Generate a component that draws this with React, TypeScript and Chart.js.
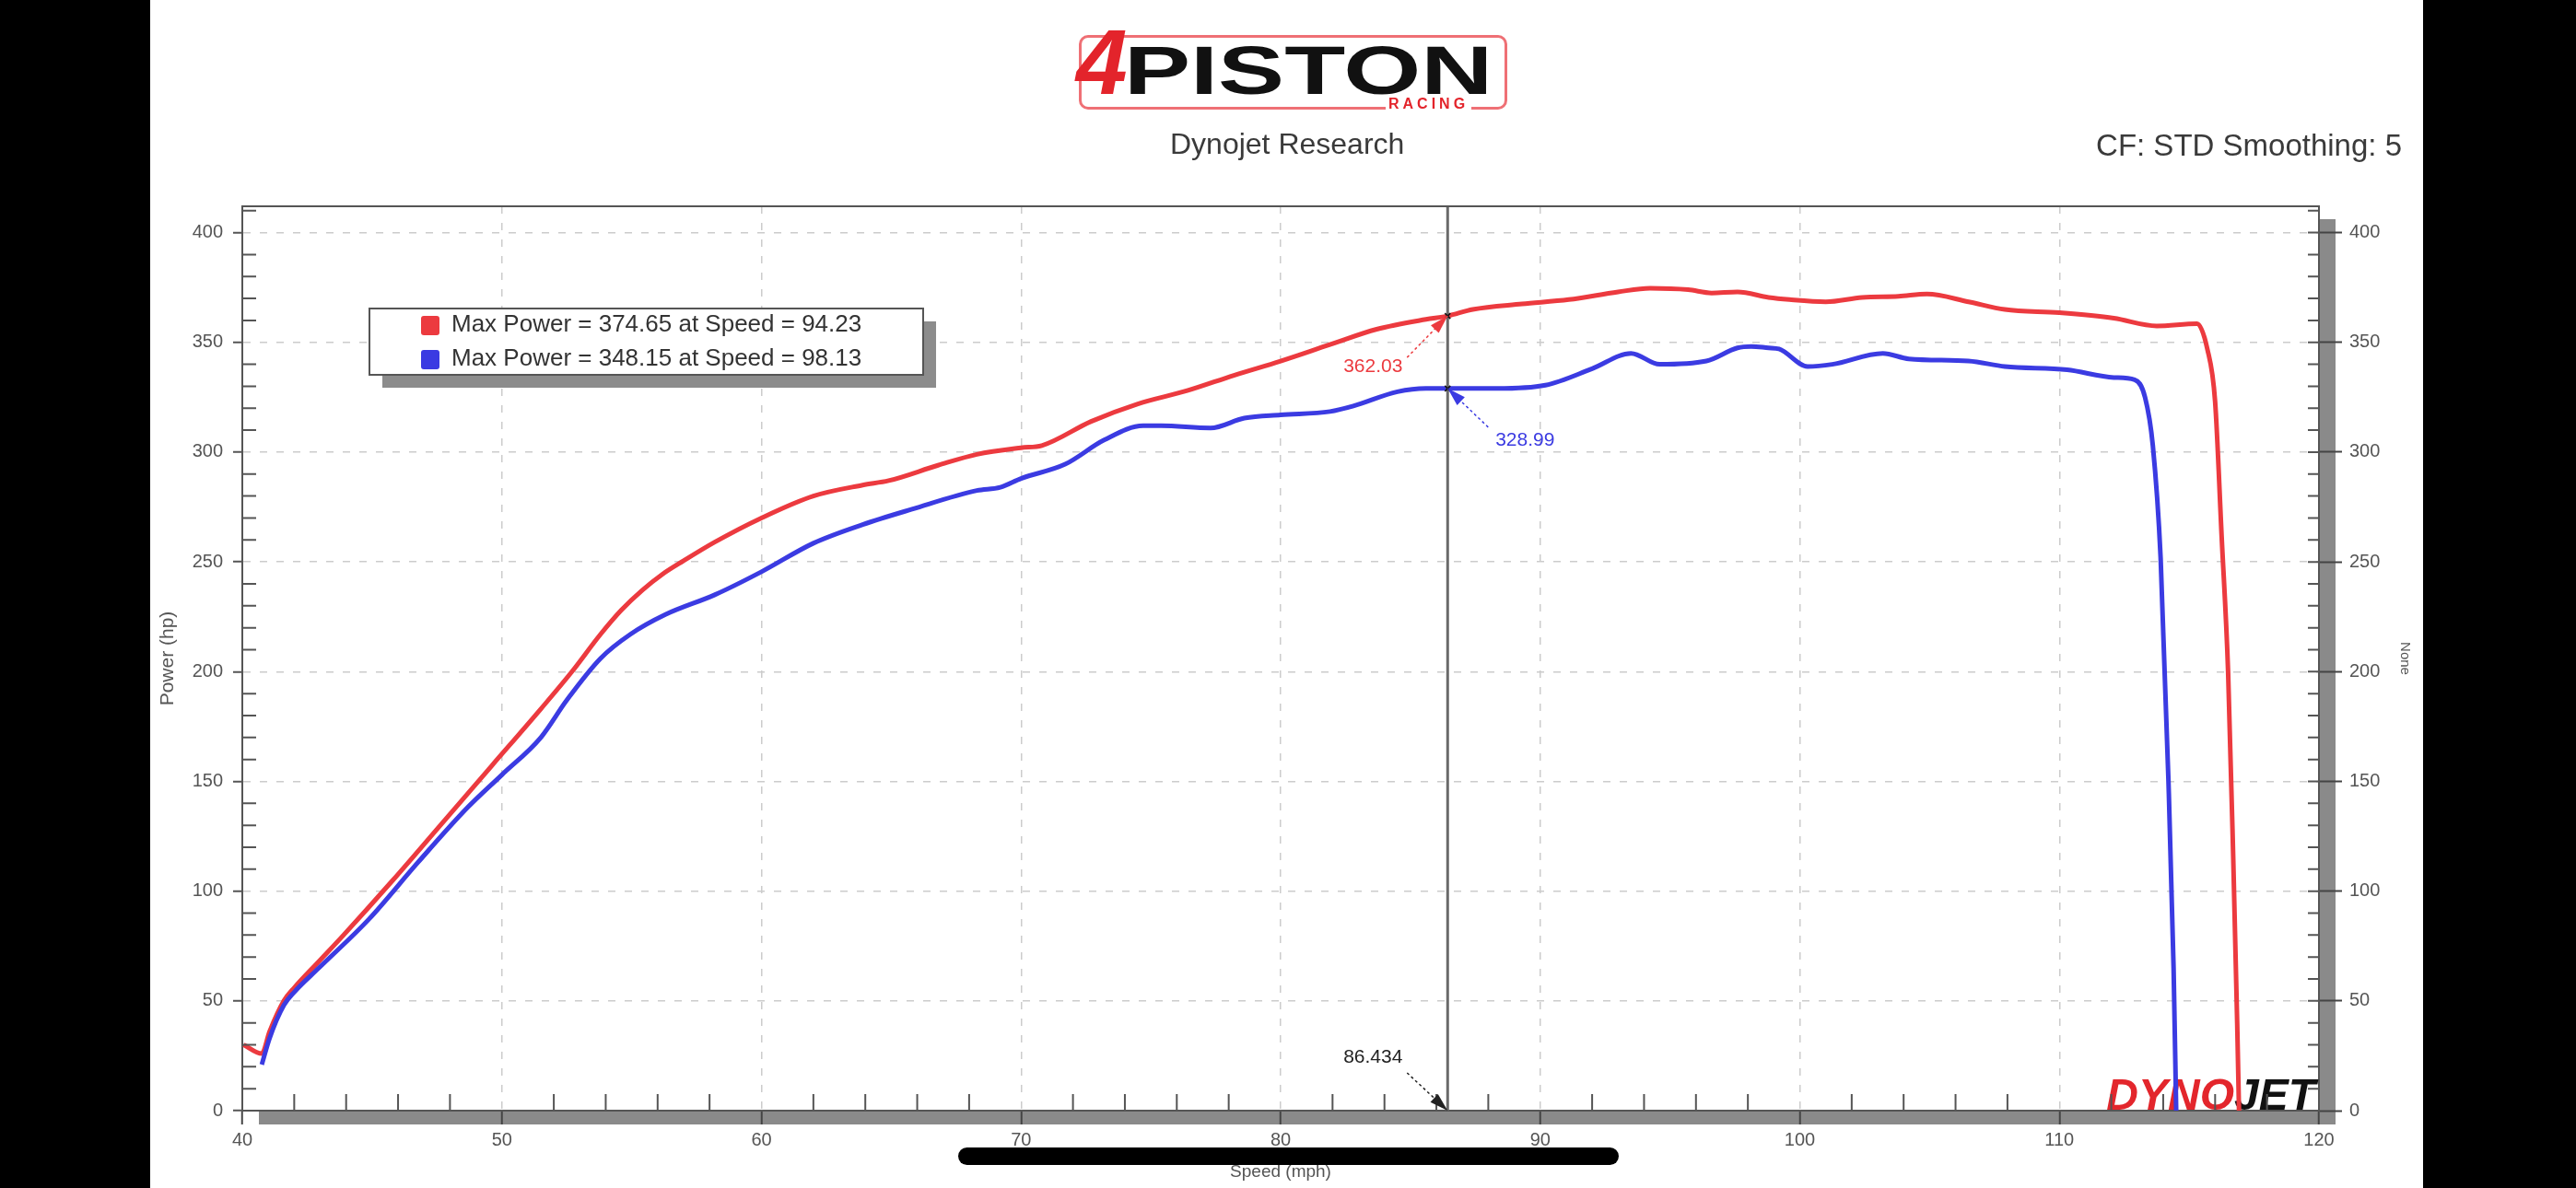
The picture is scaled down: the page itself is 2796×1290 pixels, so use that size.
import React, { useEffect, useRef } from 'react';
import { Chart, registerables } from 'chart.js';

Chart.register(...registerables);

// ---------- data ----------
const redSpeed = [40.05, 40.75, 41.05, 41.6, 42.0, 42.95, 43.9, 45.8, 47.7, 49.6, 51.5, 52.7, 53.8, 54.6, 55.4, 56.2, 57.0, 58.2, 60.0, 62.0, 63.9, 64.9, 66.8, 68.3, 70.0, 70.8, 72.7, 74.5, 76.4, 78.2, 80.0, 81.9, 83.7, 85.6, 86.434, 87.4, 89.3, 91.1, 93.0, 94.23, 95.7, 96.6, 97.6, 98.8, 99.6, 101.0, 102.4, 103.8, 104.9, 106.5, 107.9, 110.0, 112.1, 113.75, 115.3, 115.7, 116.0, 116.25, 116.5, 116.7, 116.85, 116.92];
const redPower = [30, 26, 36, 50, 56, 68, 80, 105, 131, 157, 183, 200, 217, 228, 237, 244.5, 250.5, 259, 270, 280, 285, 287, 294, 299, 302, 303, 314, 322, 328, 335, 341.5, 349, 356, 360.5, 362.03, 365, 367.5, 369.5, 373, 374.65, 374, 372.5, 373, 370.5, 369.5, 368.5, 370.5, 371, 372, 368.5, 365, 363.5, 361, 357.5, 358.5, 347, 323, 262, 200, 114, 40, 0];

const blueSpeed = [40.75, 41.05, 41.6, 42.0, 42.95, 44.86, 46.76, 48.67, 50.0, 51.5, 52.5, 53.8, 54.95, 56.3, 58.2, 60.0, 62.0, 63.9, 65.8, 68.3, 69.2, 70.0, 71.7, 73.2, 74.7, 75.4, 77.3, 78.6, 80.0, 81.9, 82.8, 84.5, 85.6, 86.434, 88.3, 90.2, 92.0, 93.5, 94.6, 96.4, 97.6, 98.13, 98.8, 99.2, 100.3, 101.25, 103.2, 104.2, 106.5, 107.9, 110.3, 112.1, 112.9, 113.3, 113.6, 113.9, 114.2, 114.4, 114.5];
const bluePower = [21, 33, 48, 54, 65, 87, 113, 138, 153, 170, 187, 206, 217, 226, 235, 245.5, 258.5, 267, 274, 282.5, 284, 288, 294.5, 305.5, 312, 312, 311, 315.5, 317, 318.5, 321, 327.5, 329, 328.99, 329, 330.5, 338, 345, 340, 341.5, 347.5, 348.15, 347.5, 347, 339, 340, 345, 342.5, 341.5, 339, 337.5, 334, 333, 325, 303, 252, 151, 65, 0];

const legendLabels = ['Max Power = 374.65 at Speed = 94.23', 'Max Power = 348.15 at Speed = 98.13'];
const cursorSpeed = 86.434;
const cursorValues = [362.03, 328.99];
const cursorSpeedLabel = '86.434';
const cursorValueLabels = ['362.03', '328.99'];

const RED = '#ec3a3f';
const BLUE = '#3b3be2';
const FONT = '"Liberation Sans", Arial, sans-serif';

function arrowLabel(
  ctx: CanvasRenderingContext2D,
  tx: number, ty: number, text: string, color: string,
  lx: number, ly: number, sx: number, sy: number
) {
  ctx.save();
  ctx.strokeStyle = color;
  ctx.fillStyle = color;
  ctx.lineWidth = 1.5;
  ctx.setLineDash([3, 3]);
  ctx.beginPath();
  ctx.moveTo(tx + sx, ty + sy);
  ctx.lineTo(tx, ty);
  ctx.stroke();
  ctx.setLineDash([]);
  const ang = Math.atan2(-sy, -sx);
  const L = 20, W = 6;
  const bx = tx - L * Math.cos(ang), by = ty - L * Math.sin(ang);
  ctx.beginPath();
  ctx.moveTo(tx, ty);
  ctx.lineTo(bx + W * Math.sin(ang), by - W * Math.cos(ang));
  ctx.lineTo(bx - W * Math.sin(ang), by + W * Math.cos(ang));
  ctx.closePath();
  ctx.fill();
  ctx.font = `21px ${FONT}`;
  ctx.textAlign = 'center';
  ctx.textBaseline = 'middle';
  ctx.fillText(text, tx + lx, ty + ly);
  ctx.restore();
}

const decor = {
  id: 'decor',
  beforeDraw(chart: any) {
    const { ctx, chartArea: a } = chart;
    ctx.save();
    ctx.fillStyle = '#8a8a8a';
    ctx.fillRect(a.left + 18, a.bottom, a.right - a.left, 15);
    ctx.fillRect(a.right, a.top + 14, 18, a.bottom - a.top + 1);
    ctx.restore();
  },
  beforeDatasetsDraw(chart: any) {
    const { ctx, chartArea: a } = chart;
    ctx.save();
    ctx.font = `italic bold 48px ${FONT}`;
    ctx.textBaseline = 'alphabetic';
    const w2 = ctx.measureText('JET').width;
    const w1 = ctx.measureText('DYNO').width;
    const x0 = a.right - w2 - w1 - 4;
    ctx.fillStyle = '#e3262c';
    ctx.fillText('DYNO', x0, a.bottom - 1);
    ctx.fillStyle = '#111';
    ctx.fillText('JET', x0 + w1, a.bottom - 1);
    ctx.restore();
  },
  afterDatasetsDraw(chart: any) {
    const { ctx, chartArea: a, scales } = chart;
    const px = scales.x.getPixelForValue(cursorSpeed);
    ctx.save();
    ctx.strokeStyle = '#6a6a6a';
    ctx.lineWidth = 3;
    ctx.beginPath();
    ctx.moveTo(px, a.top);
    ctx.lineTo(px, a.bottom);
    ctx.stroke();
    ctx.strokeStyle = '#111';
    ctx.lineWidth = 1.5;
    cursorValues.forEach((v) => {
      const py = scales.y.getPixelForValue(v);
      ctx.beginPath();
      ctx.moveTo(px - 3, py - 3); ctx.lineTo(px + 3, py + 3);
      ctx.moveTo(px + 3, py - 3); ctx.lineTo(px - 3, py + 3);
      ctx.stroke();
    });
    ctx.restore();
  },
  afterDraw(chart: any) {
    const { ctx, chartArea: a, scales } = chart;
    const x = scales.x, y = scales.y;
    ctx.save();
    // top frame line
    ctx.strokeStyle = '#555';
    ctx.lineWidth = 2;
    ctx.beginPath();
    ctx.moveTo(a.left, a.top);
    ctx.lineTo(a.right, a.top);
    ctx.stroke();
    // minor ticks
    ctx.strokeStyle = '#555';
    ctx.lineWidth = 2;
    ctx.beginPath();
    for (let v = 10; v <= 410; v += 10) {
      const py = y.getPixelForValue(v);
      if (v % 50 !== 0) {
        ctx.moveTo(a.left, py); ctx.lineTo(a.left + 15, py);
      }
      ctx.moveTo(a.right - 12, py); ctx.lineTo(a.right, py);
    }
    for (let v = 42; v < 120; v += 2) {
      if (v % 10 === 0) continue;
      const p = x.getPixelForValue(v);
      ctx.moveTo(p, a.bottom); ctx.lineTo(p, a.bottom - 18);
    }
    ctx.stroke();

    // legend box
    const lx = a.left + 138, ly = a.top + 111, lw = 601, lh = 72;
    ctx.fillStyle = '#8c8c8c';
    ctx.fillRect(lx + 14, ly + 14, lw, lh);
    ctx.fillStyle = '#fff';
    ctx.fillRect(lx, ly, lw, lh);
    ctx.strokeStyle = '#555';
    ctx.lineWidth = 2;
    ctx.strokeRect(lx, ly, lw, lh);
    const colors = [RED, BLUE];
    ctx.font = `26px ${FONT}`;
    ctx.textBaseline = 'middle';
    ctx.textAlign = 'left';
    legendLabels.forEach((t, i) => {
      const cy = ly + 18 + i * 37;
      ctx.fillStyle = colors[i];
      ctx.beginPath();
      (ctx as any).roundRect ? (ctx as any).roundRect(lx + 56, cy - 10, 20, 21, 3) : ctx.rect(lx + 56, cy - 10, 20, 21);
      ctx.fill();
      ctx.fillStyle = '#333';
      ctx.fillText(t, lx + 89, cy);
    });
    ctx.restore();

    // cursor annotations
    const px = x.getPixelForValue(cursorSpeed);
    const pyR = y.getPixelForValue(cursorValues[0]);
    const pyB = y.getPixelForValue(cursorValues[1]);
    arrowLabel(ctx, px, pyR, cursorValueLabels[0], RED, -81, 55, -44, 45);
    arrowLabel(ctx, px, pyB, cursorValueLabels[1], BLUE, 84, 56, 44, 42);
    arrowLabel(ctx, px, a.bottom, cursorSpeedLabel, '#222', -81, -58, -44, -41);
  },
};

const transparent = 'rgba(0,0,0,0)';
const filter50 = (s: any) => {
  s.ticks = s.ticks.filter((t: any) => t.value % 50 === 0 && t.value <= 400);
};

export default function App() {
  const ref = useRef<HTMLCanvasElement>(null);

  useEffect(() => {
    const redPts = redSpeed.map((s, i) => ({ x: s, y: redPower[i] }));
    const bluePts = blueSpeed.map((s, i) => ({ x: s, y: bluePower[i] }));
    const chart = new Chart(ref.current as HTMLCanvasElement, {
      type: 'line',
      data: {
        datasets: [
          { label: 'Run 1', data: redPts, borderColor: RED, backgroundColor: RED, borderWidth: 5, pointRadius: 0, cubicInterpolationMode: 'monotone', order: 2 } as any,
          { label: 'Run 2', data: bluePts, borderColor: BLUE, backgroundColor: BLUE, borderWidth: 5, pointRadius: 0, cubicInterpolationMode: 'monotone', order: 1 } as any,
        ],
      },
      options: {
        responsive: false,
        animation: false,
        devicePixelRatio: 1,
        events: [],
        layout: { padding: { left: 170, right: 170, top: 224, bottom: 6 } },
        plugins: { legend: { display: false }, tooltip: { enabled: false }, title: { display: false } },
        scales: {
          x: {
            type: 'linear', min: 40, max: 120,
            afterFit: (s: any) => { s.height = 78; },
            ticks: { stepSize: 10, color: '#555', font: { family: FONT, size: 20 }, padding: 5, maxRotation: 0, autoSkip: false },
            grid: {
              color: (c: any) => (c.tick && (c.tick.value === 40 || c.tick.value === 120) ? transparent : '#cccccc'),
              lineWidth: 1.5, tickLength: 15, tickColor: '#444', tickWidth: 2,
            },
            border: { color: '#555', width: 2, dash: [8, 10] },
            title: { display: true, text: 'Speed (mph)', color: '#555', font: { family: FONT, size: 19 }, padding: 0 },
          },
          y: {
            type: 'linear', position: 'left', min: 0, max: 412,
            afterBuildTicks: filter50,
            afterFit: (s: any) => { s.width = 93; },
            ticks: { stepSize: 50, color: '#555', font: { family: FONT, size: 20 }, padding: 11 },
            grid: {
              color: (c: any) => (c.tick && c.tick.value === 0 ? transparent : '#cccccc'),
              lineWidth: 1.5, tickLength: 10, tickColor: '#555', tickWidth: 2,
            },
            border: { color: '#555', width: 2, dash: [8, 10] },
            title: { display: true, text: 'Power (hp)', color: '#555', font: { family: FONT, size: 21 }, padding: 0 },
          },
          y2: {
            type: 'linear', position: 'right', min: 0, max: 412,
            afterBuildTicks: filter50,
            afterFit: (s: any) => { s.width = 109; },
            ticks: { stepSize: 50, color: '#555', font: { family: FONT, size: 20 }, padding: 8 },
            grid: { drawOnChartArea: false, tickLength: 25, tickColor: '#444', tickWidth: 2, color: '#444' },
            border: { color: '#555', width: 2 },
            title: { display: true, text: 'None', color: '#555', font: { family: FONT, size: 15 }, padding: { top: 7, bottom: 0 } },
          },
        },
      } as any,
      plugins: [decor],
    });
    return () => chart.destroy();
  }, []);

  const abs = (o: React.CSSProperties): React.CSSProperties => ({ position: 'absolute', ...o });

  return (
    <div style={{ position: 'fixed', left: 0, top: 0, width: 2796, height: 1290, background: '#fff', overflow: 'hidden' }}>
      <canvas ref={ref} width={2796} height={1290} style={abs({ left: 0, top: 0, width: 2796, height: 1290 })} />

      {/* header logo */}
      <div style={abs({ left: 1171, top: 38, width: 465, height: 81, border: '3px solid #ef7075', borderRadius: 10, boxSizing: 'border-box' })} />
      <div style={abs({ left: 1168, top: 17, fontFamily: FONT, fontWeight: 700, fontStyle: 'italic', fontSize: 100, lineHeight: 1, color: '#e3242b' })}>4</div>
      <div style={abs({ left: 1220, top: 40, fontFamily: FONT, fontWeight: 700, fontSize: 74, lineHeight: 1, color: '#111', transform: 'scaleX(1.46)', transformOrigin: 'left top', whiteSpace: 'nowrap' })}>PISTON</div>
      <div style={abs({ left: 1504, top: 105, fontFamily: FONT, fontWeight: 700, fontSize: 16, lineHeight: 1, letterSpacing: 4, color: '#e3242b', background: '#fff', padding: '0 3px' })}>RACING</div>

      <div style={abs({ left: 1270, top: 140, fontFamily: FONT, fontSize: 32, lineHeight: 1, color: '#3a3a3a', whiteSpace: 'nowrap' })}>Dynojet Research</div>
      <div style={abs({ right: 189, top: 141, fontFamily: FONT, fontSize: 33, lineHeight: 1, color: '#3a3a3a', whiteSpace: 'nowrap' })}>CF: STD Smoothing: 5</div>

      {/* screenshot frame */}
      <div style={abs({ left: 0, top: 0, width: 163, height: 1290, background: '#000' })} />
      <div style={abs({ left: 2630, top: 0, width: 166, height: 1290, background: '#000' })} />
      <div style={abs({ left: 1040, top: 1246, width: 717, height: 19, borderRadius: 10, background: '#000' })} />
    </div>
  );
}
